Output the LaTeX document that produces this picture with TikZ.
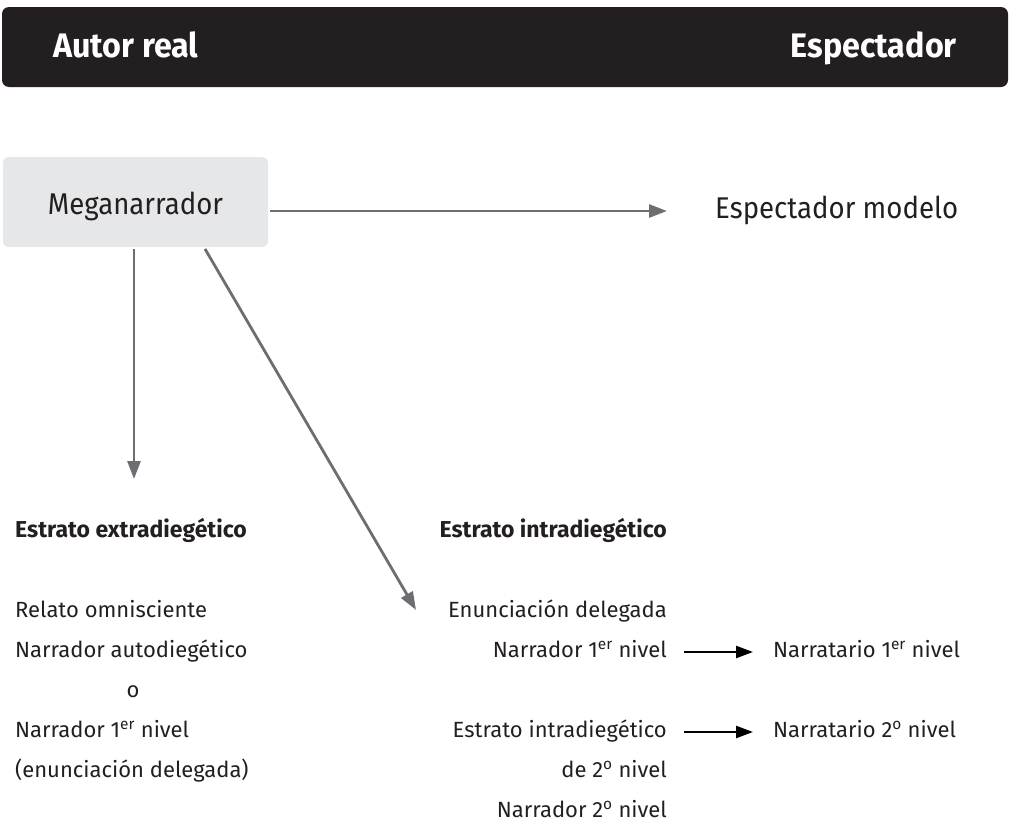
\documentclass[tikz,border=0pt]{standalone}
\usepackage{fontspec}
\setmainfont{Fira Sans}
\newfontfamily\narrowfont[FakeStretch=0.92]{Fira Sans}
\newfontfamily\barfont[FakeStretch=0.95]{Fira Sans}
\usetikzlibrary{arrows.meta}
\definecolor{barblack}{HTML}{231F20}
\definecolor{boxgray}{HTML}{E6E7E8}
\definecolor{arrowgray}{HTML}{6D6E71}
\definecolor{textdark}{HTML}{231F20}
\newcommand{\ordo}{\textsuperscript{o}}
\begin{document}
\begin{tikzpicture}[x=1pt,y=-1pt,
  body/.style={inner sep=0pt, font=\fontsize{22}{26}\selectfont, text=textdark},
  heading/.style={inner sep=0pt, font=\fontsize{23}{27}\selectfont\bfseries, text=textdark},
  rowtxt/.style={body, text height=10pt, text depth=0pt},
  bartext/.style={inner sep=0pt, font=\barfont\fontsize{34}{40}\selectfont\bfseries, text=white},
  topbar/.style={fill=barblack, rounded corners=7pt, minimum width=1006pt, minimum height=80pt, inner sep=0pt},
  megabox/.style={fill=boxgray, rounded corners=6pt, minimum width=265pt, minimum height=90pt, inner sep=0pt, font=\narrowfont\fontsize{30}{36}\selectfont, text=textdark, text height=24pt, text depth=0pt},
  grayarrow/.style={draw=arrowgray, line width=2.8pt, -{Triangle[length=18pt,width=13pt]}},
  blackarrow/.style={draw=black, line width=2.4pt, -{Triangle[length=17pt,width=12pt]}},
]
\useasboundingbox (0,0) rectangle (1012,822);
% header bar
\node[topbar] (bar) at (505,47) {};
\node[bartext, anchor=base west] (autor) at (53,57) {Autor real};
\node[bartext, anchor=base east] (espec) at (957,57) {Espectador};
% meganarrador
\node[megabox] (mega) at (135.5,202) {Meganarrador};
\node[body, font=\narrowfont\fontsize{30}{35}\selectfont, anchor=west, text height=14pt, text depth=0pt] (espm) at (715,211) {Espectador modelo};
% left column
\node[heading, anchor=base west] (exhead) at (15,537) {Estrato extradiegético};
\node[body, anchor=base west] (l1) at (15,617) {Relato omnisciente};
\node[body, anchor=base west] (l2) at (15,657) {Narrador autodiegético};
\node[body, anchor=base] (l3) at (133,697) {o};
\node[body, anchor=base west] (l4) at (15,737) {Narrador 1\textsuperscript{er} nivel};
\node[body, anchor=base west] (l5) at (15,777) {(enunciación delegada)};
% right column
\node[heading, anchor=base east] (inhead) at (667,537) {Estrato intradiegético};
\node[body, anchor=base east] (r1) at (667,617) {Enunciación delegada};
\node[rowtxt, anchor=base east] (r2) at (667,657) {Narrador 1\textsuperscript{er} nivel};
\node[rowtxt, anchor=base east] (r3) at (667,737) {Estrato intradiegético};
\node[body, anchor=base east] (r4) at (667,777) {de 2\ordo{} nivel};
\node[body, anchor=base east] (r5) at (667,817) {Narrador 2\ordo{} nivel};
\node[rowtxt, anchor=base west] (n1) at (773,657) {Narratario 1\textsuperscript{er} nivel};
\node[rowtxt, anchor=base west] (n2) at (773,737) {Narratario 2\ordo{} nivel};
% arrows
\coordinate (vtip) at (134,479);
\coordinate (dtip) at (416,610);
\draw[grayarrow, shorten <=2pt, shorten >=48pt] (mega.east |- espm.west) -- (espm.west);
\draw[grayarrow, shorten <=2pt] (mega.south -| vtip) -- (vtip);
\draw[grayarrow, shorten <=2pt] ([xshift=68.5pt]mega.south) -- (dtip);
\draw[blackarrow, shorten <=17pt, shorten >=20pt] (r2.east) -- (n1.west);
\draw[blackarrow, shorten <=17pt, shorten >=20pt] (r3.east) -- (n2.west);
\end{tikzpicture}
\end{document}
